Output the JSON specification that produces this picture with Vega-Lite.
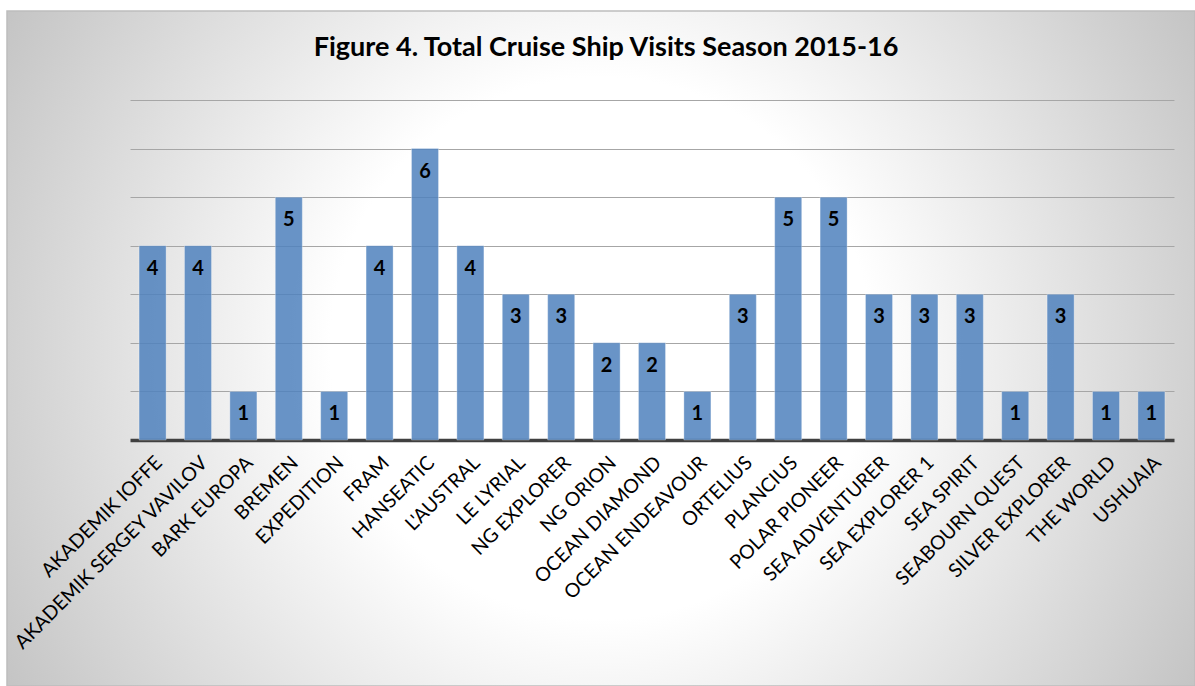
{
  "$schema": "https://vega.github.io/schema/vega-lite/v6.json",
  "width": 1188,
  "height": 675,
  "autosize": {"type": "none"},
  "padding": {"left": 7, "top": 11, "right": 0, "bottom": 0},
  "background": "#ffffff",
  "view": {
    "fill": {
      "gradient": "radial",
      "x1": 0.5, "y1": 0.5, "r1": 0,
      "x2": 0.5, "y2": 0.5, "r2": 0.6,
      "stops": [
        {"offset": 0, "color": "#ffffff"},
        {"offset": 0.38, "color": "#ffffff"},
        {"offset": 1, "color": "#c0c0c0"}
      ]
    },
    "stroke": "#bdbdbd",
    "strokeWidth": 1.5
  },
  "title": {
    "text": "Figure 4. Total Cruise Ship Visits Season 2015-16",
    "font": "Lato",
    "fontSize": 27,
    "fontWeight": "bold",
    "color": "#000000",
    "baseline": "alphabetic",
    "anchor": "middle",
    "offset": -72,
    "dx": 5
  },
  "data": {
    "values": [
      {"ship": "AKADEMIK IOFFE", "visits": 4},
      {"ship": "AKADEMIK SERGEY VAVILOV", "visits": 4},
      {"ship": "BARK EUROPA", "visits": 1},
      {"ship": "BREMEN", "visits": 5},
      {"ship": "EXPEDITION", "visits": 1},
      {"ship": "FRAM", "visits": 4},
      {"ship": "HANSEATIC", "visits": 6},
      {"ship": "L'AUSTRAL", "visits": 4},
      {"ship": "LE LYRIAL", "visits": 3},
      {"ship": "NG EXPLORER", "visits": 3},
      {"ship": "NG ORION", "visits": 2},
      {"ship": "OCEAN DIAMOND", "visits": 2},
      {"ship": "OCEAN ENDEAVOUR", "visits": 1},
      {"ship": "ORTELIUS", "visits": 3},
      {"ship": "PLANCIUS", "visits": 5},
      {"ship": "POLAR PIONEER", "visits": 5},
      {"ship": "SEA ADVENTURER", "visits": 3},
      {"ship": "SEA EXPLORER 1", "visits": 3},
      {"ship": "SEA SPIRIT", "visits": 3},
      {"ship": "SEABOURN QUEST", "visits": 1},
      {"ship": "SILVER EXPLORER", "visits": 3},
      {"ship": "THE WORLD", "visits": 1},
      {"ship": "USHUAIA", "visits": 1}
    ]
  },
  "layer": [
    {
      "mark": {
        "type": "bar",
        "color": "#4f81bd",
        "fillOpacity": 0.85,
        "stroke": "#ffffff",
        "strokeOpacity": 0.3,
        "strokeWidth": 1
      },
      "encoding": {
        "x": {
          "field": "ship",
          "type": "nominal",
          "sort": null,
          "scale": {"range": [123, 1167], "paddingInner": 0.405, "paddingOuter": 0.2},
          "axis": {
            "title": null,
            "orient": "bottom",
            "offset": -246,
            "domain": true,
            "domainColor": "#404040",
            "domainWidth": 3.5,
            "ticks": false,
            "grid": false,
            "labelAngle": -45,
            "labelFont": "Lato",
            "labelFontSize": 19.5,
            "labelColor": "#000000",
            "labelPadding": 13,
            "labelOverlap": false,
            "labelLimit": 400,
            "labelBound": false
          }
        },
        "y": {
          "field": "visits",
          "type": "quantitative",
          "scale": {"domain": [0, 7], "range": [429, 89], "nice": false},
          "axis": {
            "title": null,
            "grid": true,
            "gridColor": "#a6a6a6",
            "gridWidth": 1,
            "values": [1, 2, 3, 4, 5, 6, 7],
            "labels": false,
            "ticks": false,
            "domain": false
          }
        }
      }
    },
    {
      "mark": {
        "type": "text",
        "font": "Lato",
        "fontSize": 20,
        "fontWeight": "bold",
        "color": "#000000",
        "baseline": "middle",
        "dy": 23
      },
      "encoding": {
        "x": {"field": "ship", "type": "nominal", "sort": null},
        "y": {"field": "visits", "type": "quantitative"},
        "text": {"field": "visits", "type": "quantitative"}
      }
    }
  ]
}
